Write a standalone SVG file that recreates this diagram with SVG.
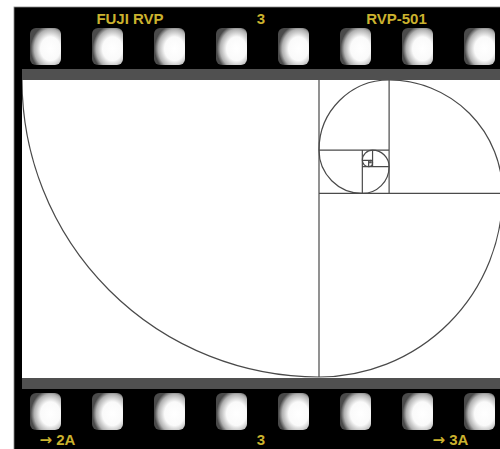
<svg xmlns="http://www.w3.org/2000/svg" width="500" height="449" viewBox="0 0 500 449">
<defs>
<radialGradient id="holeGrad" cx="0.66" cy="0.56" r="0.64">
<stop offset="0" stop-color="#ffffff"/>
<stop offset="0.5" stop-color="#fafafa"/>
<stop offset="0.82" stop-color="#b0b0b0"/>
<stop offset="1" stop-color="#4a4a4a"/>
</radialGradient>
<clipPath id="frameClip"><rect x="22" y="80" width="478" height="298"/></clipPath>
<style>
.hole{fill:url(#holeGrad)}
.lbl{font-family:"Liberation Sans",Arial,sans-serif;font-weight:bold;font-size:15px;fill:#cbb22e;text-anchor:middle}
.arr{font-family:"DejaVu Sans",sans-serif;font-weight:bold}
.ln{stroke:#4a4a4a;stroke-width:1.2;fill:none}
.bar{fill:#505050}
</style>
</defs>
<rect x="0" y="0" width="500" height="449" fill="#ffffff"/>
<g id="film">
<rect x="14" y="7" width="487" height="443" fill="#000000" stroke="#888888" stroke-width="0.8"/>
<rect class="bar" x="22" y="69" width="478" height="11"/>
<rect class="bar" x="22" y="378" width="478" height="11"/>
<rect x="22" y="80" width="478" height="298" fill="#ffffff"/>
</g>
<g id="holes-top">
<rect class="hole" x="30" y="28" width="31" height="37" rx="6"/>
<rect class="hole" x="92" y="28" width="31" height="37" rx="6"/>
<rect class="hole" x="154" y="28" width="31" height="37" rx="6"/>
<rect class="hole" x="216" y="28" width="31" height="37" rx="6"/>
<rect class="hole" x="278" y="28" width="31" height="37" rx="6"/>
<rect class="hole" x="340" y="28" width="31" height="37" rx="6"/>
<rect class="hole" x="402" y="28" width="31" height="37" rx="6"/>
<rect class="hole" x="464" y="28" width="31" height="37" rx="6"/>
</g>
<g id="holes-bottom">
<rect class="hole" x="30" y="393" width="31" height="37" rx="6"/>
<rect class="hole" x="92" y="393" width="31" height="37" rx="6"/>
<rect class="hole" x="154" y="393" width="31" height="37" rx="6"/>
<rect class="hole" x="216" y="393" width="31" height="37" rx="6"/>
<rect class="hole" x="278" y="393" width="31" height="37" rx="6"/>
<rect class="hole" x="340" y="393" width="31" height="37" rx="6"/>
<rect class="hole" x="402" y="393" width="31" height="37" rx="6"/>
<rect class="hole" x="464" y="393" width="31" height="37" rx="6"/>
</g>
<g id="labels">
<text class="lbl" x="130" y="24">FUJI RVP</text>
<text class="lbl" x="261" y="24">3</text>
<text class="lbl" x="396.5" y="24">RVP-501</text>
<text class="lbl" x="57.5" y="445"><tspan class="arr">→</tspan> 2A</text>
<text class="lbl" x="261" y="445">3</text>
<text class="lbl" x="450.5" y="445"><tspan class="arr">→</tspan> 3A</text>
</g>
<g id="connectors" clip-path="url(#frameClip)">
<path class="ln" d="M319,80V377 M319,193.44H502.56 M389.11,80V193.44 M319,150.11H389.11 M362.33,150.11V193.44 M362.33,166.66H389.11 M372.56,150.11V166.66 M362.33,160.34H372.56 M368.65,160.34V166.66 M368.65,162.75H372.56 M370.15,160.34V162.75"/>
<path class="ln" d="M22,80 A297,297 0 0 0 319,377 A183.56,183.56 0 0 0 502.56,193.44 A113.45,113.45 0 0 0 389.11,80 A70.11,70.11 0 0 0 319,150.11 A43.33,43.33 0 0 0 362.33,193.44 A26.78,26.78 0 0 0 389.11,166.66 A16.55,16.55 0 0 0 372.56,150.11 A10.23,10.23 0 0 0 362.33,160.34 A6.32,6.32 0 0 0 368.65,166.66 A3.91,3.91 0 0 0 372.56,162.75 A2.41,2.41 0 0 0 370.15,160.34"/>
</g>
</svg>
